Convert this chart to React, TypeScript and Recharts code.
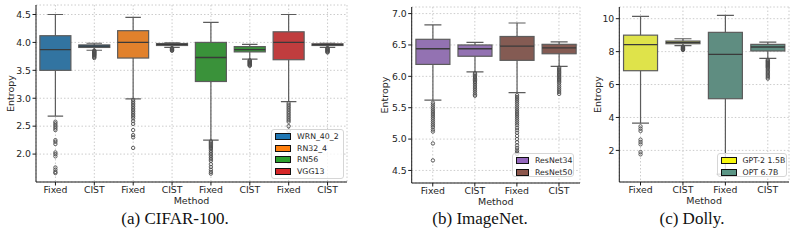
import React from 'react';
import { ComposedChart, Bar, XAxis, YAxis, CartesianGrid } from 'recharts';

// (a) CIFAR-100
const cifarMethods = ['Fixed', 'CIST', 'Fixed', 'CIST', 'Fixed', 'CIST', 'Fixed', 'CIST'];
const cifarModels = ['WRN_40_2', 'RN32_4', 'RN56', 'VGG13'];
const cifarLow = [2.68, 3.86, 2.99, 3.91, 2.25, 3.70, 2.94, 3.91];
const cifarQ1 = [3.50, 3.91, 3.72, 3.945, 3.30, 3.83, 3.69, 3.945];
const cifarMedian = [3.87, 3.935, 4.00, 3.965, 3.73, 3.87, 4.00, 3.96];
const cifarQ3 = [4.12, 3.955, 4.21, 3.98, 4.00, 3.925, 4.19, 3.975];
const cifarHigh = [4.50, 3.985, 4.45, 3.99, 4.36, 3.965, 4.50, 3.985];
const cifarOutliers = [
  [2.58, 2.55, 2.52, 2.49, 2.46, 2.43, 2.25, 2.22, 2.18, 2.03, 2.0, 1.96, 1.76, 1.72, 1.68, 1.66],
  [3.855, 3.845, 3.835, 3.825, 3.815, 3.805, 3.795, 3.785, 3.775, 3.765, 3.75, 3.735, 3.72],
  [2.97, 2.94, 2.91, 2.88, 2.85, 2.82, 2.79, 2.76, 2.73, 2.70, 2.67, 2.64, 2.59, 2.54, 2.43, 2.34, 2.30, 2.11],
  [3.90, 3.89, 3.88, 3.87, 3.86, 3.85],
  [2.23, 2.21, 2.19, 2.17, 2.15, 2.13, 2.11, 2.09, 2.06, 2.03, 2.0, 1.97, 1.94, 1.91, 1.88, 1.82, 1.77, 1.72, 1.68, 1.65],
  [3.68, 3.67, 3.66, 3.65, 3.64, 3.63, 3.62, 3.61, 3.60, 3.59, 3.58],
  [2.91, 2.88, 2.85, 2.82, 2.79, 2.76, 2.73, 2.70, 2.67, 2.64, 2.61, 2.58, 2.50, 2.42, 2.30, 2.12, 1.86],
  [3.90, 3.89, 3.88, 3.87, 3.86, 3.85, 3.84, 3.83, 3.82],
];
const cifarTicks = [2.0, 2.5, 3.0, 3.5, 4.0, 4.5];

// (b) ImageNet
const imagenetMethods = ['Fixed', 'CIST', 'Fixed', 'CIST'];
const imagenetModels = ['ResNet34', 'ResNet50'];
const imagenetLow = [5.62, 6.07, 5.74, 6.16];
const imagenetQ1 = [6.19, 6.32, 6.255, 6.36];
const imagenetMedian = [6.44, 6.44, 6.48, 6.455];
const imagenetQ3 = [6.59, 6.50, 6.635, 6.51];
const imagenetHigh = [6.82, 6.54, 6.85, 6.55];
const imagenetOutliers = [
  [5.58, 5.55, 5.52, 5.49, 5.46, 5.43, 5.40, 5.37, 5.34, 5.31, 5.28, 5.25, 5.22, 5.19, 5.15, 5.12, 4.93, 4.66],
  [6.05, 6.03, 6.01, 5.99, 5.97, 5.95, 5.93, 5.91, 5.89, 5.86, 5.83, 5.80, 5.77, 5.74, 5.71, 5.69],
  [5.70, 5.67, 5.64, 5.61, 5.58, 5.55, 5.52, 5.49, 5.46, 5.43, 5.40, 5.37, 5.34, 5.31, 5.28, 5.25, 5.22, 5.18, 5.14, 5.10, 5.05, 5.00, 4.95, 4.90, 4.86, 4.82, 4.79, 4.76],
  [6.14, 6.12, 6.10, 6.08, 6.06, 6.04, 6.02, 6.00, 5.98, 5.96, 5.94, 5.92, 5.90, 5.87, 5.84, 5.81, 5.78, 5.75, 5.72],
];
const imagenetTicks = [4.5, 5.0, 5.5, 6.0, 6.5, 7.0];

// (c) Dolly
const dollyMethods = ['Fixed', 'CIST', 'Fixed', 'CIST'];
const dollyModels = ['GPT-2 1.5B', 'OPT 6.7B'];
const dollyLow = [3.66, 8.36, 0.56, 7.59];
const dollyQ1 = [6.84, 8.48, 5.14, 8.04];
const dollyMedian = [8.42, 8.56, 7.83, 8.28];
const dollyQ3 = [9.0, 8.64, 9.17, 8.44];
const dollyHigh = [10.14, 8.78, 10.2, 8.58];
const dollyOutliers = [
  [3.46, 3.32, 3.18, 2.65, 2.51, 2.37, 1.90, 1.76],
  [8.30, 8.27, 8.24, 8.21, 8.18, 8.15, 8.12, 8.10],
  [],
  [7.50, 7.45, 7.40, 7.35, 7.30, 7.25, 7.20, 7.15, 7.10, 7.05, 7.00, 6.92, 6.84, 6.76, 6.68, 6.60, 6.52, 6.44, 6.36],
];
const dollyTicks = [2, 4, 6, 8, 10];

// styles
const cifarBoxColors = ['#3274a1', '#e1812c', '#3a923a', '#c03d3e'];
const cifarLegendColors = ['#1f77b4', '#ff7f0e', '#2ca02c', '#d62728'];
const imagenetBoxColors = ['#9372b2', '#845b53'];
const imagenetLegendColors = ['#9467bd', '#8c564b'];
const dollyBoxColors = ['#dfe34a', '#5f8d81'];
const dollyLegendColors = ['#f8f80e', '#5b9585'];

const LINE = '#5c5c5c';
const MEDIAN = '#3a3a3a';
const TEXT = '#262626';
const FONT = "'DejaVu Sans', sans-serif";

const makeRows = (
  prefix: string,
  methods: string[],
  low: number[],
  q1: number[],
  median: number[],
  q3: number[],
  high: number[],
  outliers: number[][]
) =>
  methods.map((m, i) => ({
    id: `${prefix}${i}`,
    method: m,
    group: Math.floor(i / 2),
    range: [low[i], high[i]],
    q1: q1[i],
    median: median[i],
    q3: q3[i],
    outliers: outliers[i],
  }));

const cifarRows = makeRows('a', cifarMethods, cifarLow, cifarQ1, cifarMedian, cifarQ3, cifarHigh, cifarOutliers);
const imagenetRows = makeRows('b', imagenetMethods, imagenetLow, imagenetQ1, imagenetMedian, imagenetQ3, imagenetHigh, imagenetOutliers);
const dollyRows = makeRows('c', dollyMethods, dollyLow, dollyQ1, dollyMedian, dollyQ3, dollyHigh, dollyOutliers);

// the range bar gives whisker ends in pixels, everything else is placed on the same linear scale
const BoxShape = (props: any) => {
  const { x, y, width, height, payload, colors } = props;
  if (!payload) return null;
  const top = Math.min(y, y + height);
  const bottom = Math.max(y, y + height);
  const [lo, hi] = payload.range;
  const toY = (v: number) => bottom - ((v - lo) / (hi - lo)) * (bottom - top);
  const cx = x + width / 2;
  const cap = width / 4;
  const yQ1 = toY(payload.q1);
  const yQ3 = toY(payload.q3);
  const yMed = toY(payload.median);
  return (
    <g>
      <line x1={cx} x2={cx} y1={top} y2={yQ3} stroke={LINE} strokeWidth={1.2} />
      <line x1={cx} x2={cx} y1={yQ1} y2={bottom} stroke={LINE} strokeWidth={1.2} />
      <line x1={cx - cap} x2={cx + cap} y1={top} y2={top} stroke={LINE} strokeWidth={1.2} />
      <line x1={cx - cap} x2={cx + cap} y1={bottom} y2={bottom} stroke={LINE} strokeWidth={1.2} />
      <rect x={x} y={yQ3} width={width} height={Math.max(yQ1 - yQ3, 0.5)} fill={colors[payload.group]} stroke={LINE} strokeWidth={1.2} />
      <line x1={x} x2={x + width} y1={yMed} y2={yMed} stroke={MEDIAN} strokeWidth={1.3} />
      {payload.outliers.map((v: number, k: number) => (
        <circle key={k} cx={cx} cy={toY(v)} r={1.7} fill="none" stroke="#4e4e4e" strokeWidth={0.9} />
      ))}
    </g>
  );
};

const tickStyle = { fontSize: 9.3, fill: TEXT, fontFamily: FONT };

function BoxPanel(props: any) {
  const { rows, colors, ticks, domain, width, height, top, yAxisWidth, labelDx, fmt } = props;
  return (
    <ComposedChart
      width={width}
      height={height}
      data={rows}
      margin={{ top, right: 5, bottom: 0, left: 0 }}
      barCategoryGap="10%"
    >
      <CartesianGrid stroke="#cccccc" strokeDasharray="1.5 2" />
      <XAxis
        dataKey="id"
        interval={0}
        height={28}
        tickSize={3.5}
        tickMargin={1}
        stroke="#1a1a1a"
        tick={tickStyle}
        tickFormatter={(v: string) => rows.find((r: any) => r.id === v)?.method}
        label={{ value: 'Method', position: 'insideBottom', offset: 6, fontSize: 9.5, fill: TEXT, fontFamily: FONT }}
      />
      <XAxis xAxisId="top" dataKey="id" orientation="top" height={0} tick={false} tickLine={false} stroke="#1a1a1a" />
      <YAxis
        type="number"
        domain={domain}
        ticks={ticks}
        allowDataOverflow
        width={yAxisWidth}
        tickSize={3.5}
        tickMargin={1.5}
        stroke="#1a1a1a"
        tick={tickStyle}
        tickFormatter={fmt}
        label={{ value: 'Entropy', angle: -90, position: 'center', dx: labelDx, fontSize: 9.5, fill: TEXT, fontFamily: FONT }}
      />
      <YAxis yAxisId="right" orientation="right" width={0} domain={[0, 1]} tick={false} tickLine={false} stroke="#1a1a1a" />
      <Bar
        dataKey="range"
        isAnimationActive={false}
        shape={(p: any) => <BoxShape {...p} colors={colors} />}
      />
    </ComposedChart>
  );
}

function LegendBox(props: any) {
  const { left, top, width, height, names, colors } = props;
  return (
    <div
      style={{
        position: 'absolute',
        left,
        top,
        width,
        height,
        boxSizing: 'border-box',
        background: 'rgba(255,255,255,0.8)',
        border: '1px solid #d6d6d6',
        borderRadius: 3,
        paddingTop: 1,
        fontFamily: FONT,
        fontSize: 7.8,
        color: TEXT,
      }}
    >
      {names.map((n: string, i: number) => (
        <div key={n} style={{ display: 'flex', alignItems: 'center', height: 11.7 }}>
          <span
            style={{
              display: 'inline-block',
              marginLeft: 3,
              width: 16,
              height: 7,
              boxSizing: 'border-box',
              background: colors[i],
              border: '1px solid #111',
            }}
          />
          <span style={{ marginLeft: 6, whiteSpace: 'nowrap' }}>{n}</span>
        </div>
      ))}
    </div>
  );
}

const captionStyle: React.CSSProperties = {
  position: 'absolute',
  top: 210,
  fontFamily: "'Liberation Serif', 'Times New Roman', serif",
  fontSize: 17,
  lineHeight: '17px',
  textAlign: 'center',
  color: '#111',
  whiteSpace: 'nowrap',
};

export default function App() {
  return (
    <div style={{ position: 'absolute', left: 0, top: 0, width: 798, height: 246, background: '#fff', overflow: 'hidden' }}>
      <div style={{ position: 'absolute', left: 0, top: 0 }}>
        <BoxPanel
          rows={cifarRows}
          colors={cifarBoxColors}
          ticks={cifarTicks}
          domain={[1.5, 4.67]}
          width={352}
          height={210}
          top={5}
          yAxisWidth={36}
          labelDx={-7}
          fmt={(v: number) => v.toFixed(1)}
        />
      </div>
      <LegendBox left={271} top={128.5} width={73} height={50} names={cifarModels} colors={cifarLegendColors} />

      <div style={{ position: 'absolute', left: 370, top: 0 }}>
        <BoxPanel
          rows={imagenetRows}
          colors={imagenetBoxColors}
          ticks={imagenetTicks}
          domain={[4.3, 7.105]}
          width={215}
          height={211}
          top={7}
          yAxisWidth={41.7}
          labelDx={-6}
          fmt={(v: number) => v.toFixed(1)}
        />
      </div>
      <LegendBox left={511.5} top={152.5} width={62} height={24.5} names={imagenetModels} colors={imagenetLegendColors} />

      <div style={{ position: 'absolute', left: 585, top: 0 }}>
        <BoxPanel
          rows={dollyRows}
          colors={dollyBoxColors}
          ticks={dollyTicks}
          domain={[0.08, 10.71]}
          width={209}
          height={210}
          top={7}
          yAxisWidth={34.3}
          labelDx={-5}
          fmt={(v: number) => String(v)}
        />
      </div>
      <LegendBox left={716.5} top={153} width={70.5} height={24} names={dollyModels} colors={dollyLegendColors} />

      <div style={{ ...captionStyle, left: 95, width: 160 }}>(a) CIFAR-100.</div>
      <div style={{ ...captionStyle, left: 400, width: 160 }}>(b) ImageNet.</div>
      <div style={{ ...captionStyle, left: 612, width: 160 }}>(c) Dolly.</div>
    </div>
  );
}
